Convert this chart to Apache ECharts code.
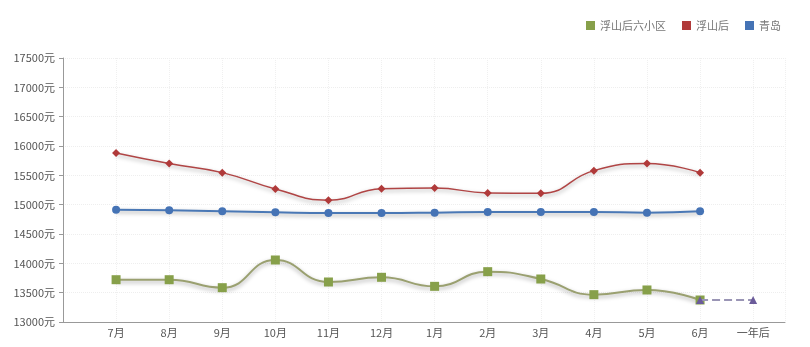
<!DOCTYPE html>
<html>
<head>
<meta charset="utf-8">
<script src="https://cdn.jsdelivr.net/npm/echarts@6/dist/echarts.min.js"></script>
<style>html,body{margin:0;padding:0;background:#fff}#c{width:810px;height:347px}</style>
</head>
<body>
<div id="c"></div>
<script>
var categories = ['7月','8月','9月','10月','11月','12月','1月','2月','3月','4月','5月','6月','一年后'];
var seriesNames = ['浮山后六小区','浮山后','青岛'];
var xiaoqu = [13721, 13721, 13585, 14057, 13682, 13762, 13608, 13858, 13733, 13466, 13546, 13375];
var fushanhou = [15880, 15700, 15546, 15268, 15075, 15273, 15285, 15200, 15194, 15580, 15700, 15546];
var qingdao = [14915, 14904, 14887, 14870, 14858, 14858, 14864, 14875, 14875, 14875, 14864, 14887];
var forecast = [null, null, null, null, null, null, null, null, null, null, null, 13375, 13375];
var yTicks = {min: 13000, max: 17500, step: 500};

function pairs(arr){ return arr.map(function(v,i){ return [i, v]; }); }

var shadow = {shadowColor: 'rgba(0,0,0,0.35)', shadowBlur: 4, shadowOffsetY: 2};
var chart = echarts.init(document.getElementById('c'));
chart.setOption({
  animation: false,
  textStyle: {fontFamily: '"Noto Sans CJK SC", "Noto Sans", sans-serif'},
  legend: {
    right: 24, top: 15, icon: 'rect', itemWidth: 9, itemHeight: 9, itemGap: 16,
    textStyle: {fontSize: 11, color: '#777'},
    data: seriesNames
  },
  grid: {left: 63, right: 25, top: 58, bottom: 25},
  xAxis: {
    type: 'value', min: -1, max: 12.6, interval: 1,
    axisLine: {onZero: false, lineStyle: {color: '#999'}},
    axisTick: {show: false},
    axisLabel: {
      color: '#555', fontSize: 11, margin: 5,
      formatter: function(v){ return (Number.isInteger(v) && v >= 0) ? (categories[v] || '') : ''; }
    },
    splitLine: {show: true, lineStyle: {color: '#f0f0f0', type: 'dotted'}}
  },
  yAxis: {
    type: 'value', min: yTicks.min, max: yTicks.max, interval: yTicks.step,
    axisLine: {show: true, onZero: false, lineStyle: {color: '#999'}},
    axisTick: {show: true, length: 4, lineStyle: {color: '#999'}},
    axisLabel: {color: '#555', fontSize: 11, margin: 8, padding: [0,0,10,0],
      formatter: function(v){ return v + '元'; }},
    splitLine: {show: true, lineStyle: {color: '#eee', type: 'dotted'}}
  },
  series: [
    {name: seriesNames[0], type: 'line', smooth: true, data: pairs(xiaoqu), symbol: 'rect', symbolSize: 9,
     itemStyle: {color: '#87A04A'}, lineStyle: Object.assign({width: 2, color: '#9aa070'}, shadow), z: 3},
    {name: seriesNames[1], type: 'line', smooth: true, data: pairs(fushanhou), symbol: 'diamond', symbolSize: 8,
     itemStyle: {color: '#B03A3A'}, lineStyle: Object.assign({width: 1.5, color: '#B04545'}, shadow), z: 3},
    {name: seriesNames[2], type: 'line', smooth: true, data: pairs(qingdao), symbol: 'circle', symbolSize: 8,
     itemStyle: {color: '#4573B5'}, lineStyle: Object.assign({width: 2, color: '#4A78B5'}, shadow), z: 3},
    {name: 'forecast', type: 'line', data: pairs(forecast), symbol: 'triangle', symbolSize: 8,
     itemStyle: {color: '#6B5B9A'}, lineStyle: {width: 2, type: 'dashed', color: '#9a95b5'}, z: 4}
  ]
});
</script>
</body>
</html>
